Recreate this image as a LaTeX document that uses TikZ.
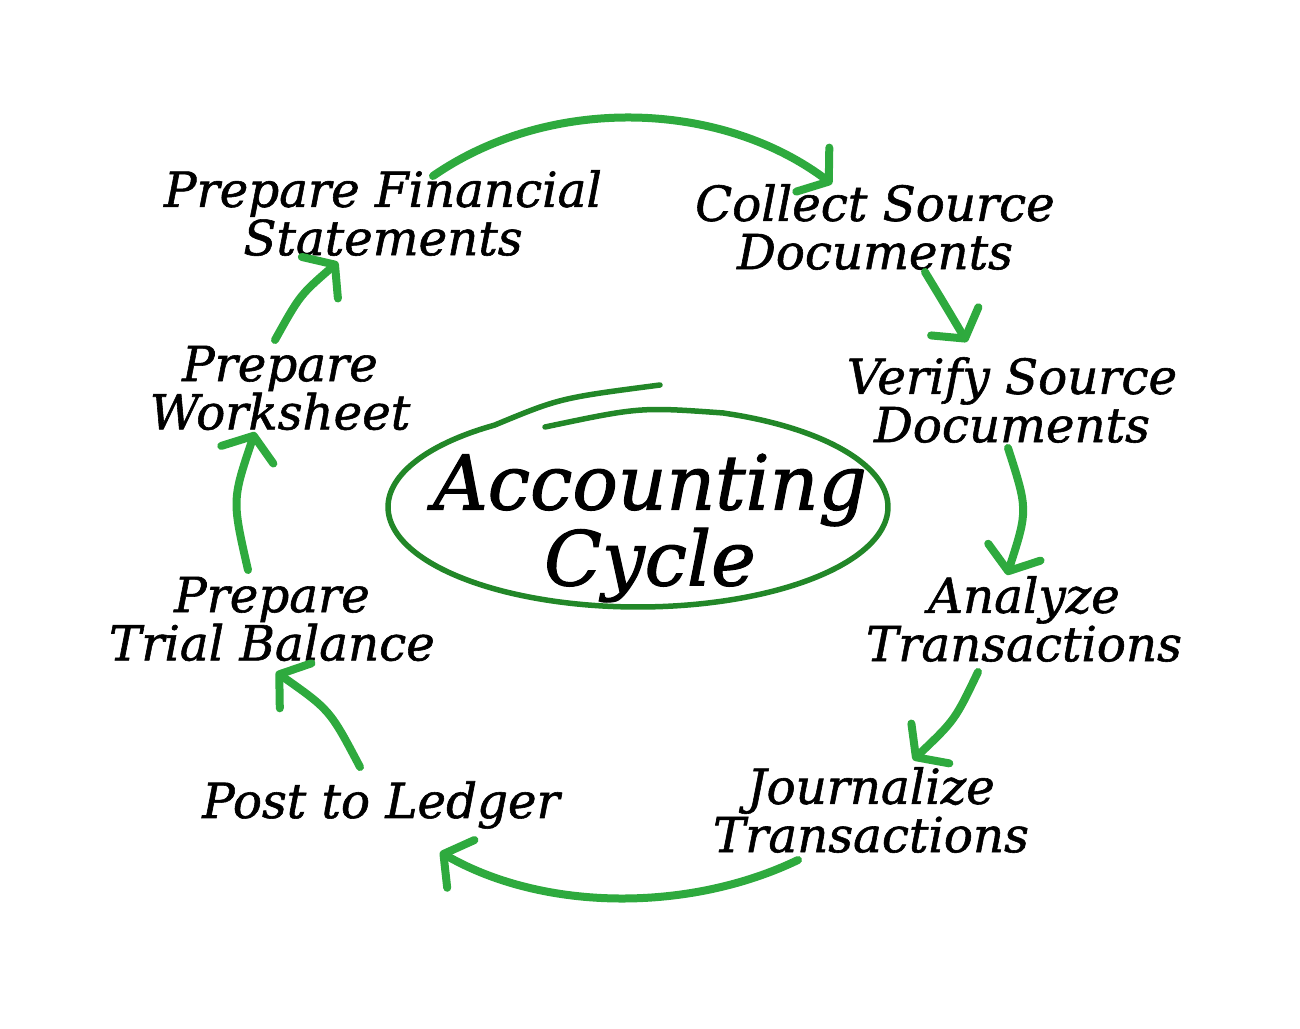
\documentclass[tikz,border=0pt]{standalone}
\usepackage{fontspec}
\setmainfont{DejaVu Serif}
\usetikzlibrary{arrows.meta}
\definecolor{arrowgreen}{RGB}{46,170,62}
\definecolor{ringgreen}{RGB}{34,135,40}

\begin{document}
\begin{tikzpicture}[x=0.2mm, y=-0.2mm,
my stage/.style = {align=center, inner sep=0pt,
                   font=\fontsize{27.5}{27.5}\selectfont\itshape\addfontfeature{FakeBold=1.2}},
my arrow/.style = {draw=arrowgreen, line width=1.6mm, line cap=round,
                   -{Straight Barb[length=4mm, width=11mm, round]}}
                   ]
\useasboundingbox (0,0) rectangle (1300,1029);

% centre
\node[align=center, font=\fontsize{43}{41}\selectfont\itshape\addfontfeature{FakeBold=1.5}] (title) at (650,528) {Accounting\\Cycle};
\draw[ringgreen, line width=1.1mm, line cap=round, line join=round]
    (545,427) .. controls (640,407) .. (723.5,413)
    -- plot[domain=-70:235, samples=90, smooth] ({638+250*cos(\x)},{507+100*sin(\x)})
    .. controls (560,398) .. (660,385);

% stages
\node[my stage] (fin) at (383,213) {Prepare Financial\\Statements};
\node[my stage] (col) at (875,227) {Collect Source\\Documents};
\node[my stage] (ver) at (1012,400) {Verify Source\\Documents};
\node[my stage] (ana) at (1024,619) {Analyze\\Transactions};
\node[my stage] (jou) at (871,810) {Journalize\\Transactions};
\node[my stage] (pos) at (381,805) {Post to Ledger};
\node[my stage] (tri) at (272,619) {Prepare\\Trial Balance};
\node[my stage] (wor) at (280,388) {Prepare\\Worksheet};

% arrows
\coordinate (a1s) at (433,176);  \coordinate (a1e) at (832,184);
\coordinate (a2s) at (925,272);  \coordinate (a2e) at (967,342);
\coordinate (a3s) at (1008,448); \coordinate (a3e) at (1007,575);
\coordinate (a4s) at (978,672);  \coordinate (a4e) at (913,760);
\coordinate (a5s) at (798,860);  \coordinate (a5e) at (440,852);
\coordinate (a6s) at (360,767);  \coordinate (a6e) at (276,672);
\coordinate (a7s) at (248,570);  \coordinate (a7e) at (255,432);
\coordinate (a8s) at (275,340);  \coordinate (a8e) at (338,262);

\draw[my arrow] (a1s) .. controls (550,95) and (720,100) .. (a1e);
\draw[my arrow] (a2s) .. controls (945,305) .. (a2e);
\draw[my arrow] (a3s) .. controls (1028,510) .. (a3e);
\draw[my arrow] (a4s) .. controls (955,720) .. (a4e);
\draw[my arrow] (a5s) .. controls (690,912) and (545,912) .. (a5e);
\draw[my arrow] (a6s) .. controls (330,710) .. (a6e);
\draw[my arrow] (a7s) .. controls (232,500) .. (a7e);
\draw[my arrow] (a8s) .. controls (300,295) .. (a8e);

\end{tikzpicture}
\end{document}
